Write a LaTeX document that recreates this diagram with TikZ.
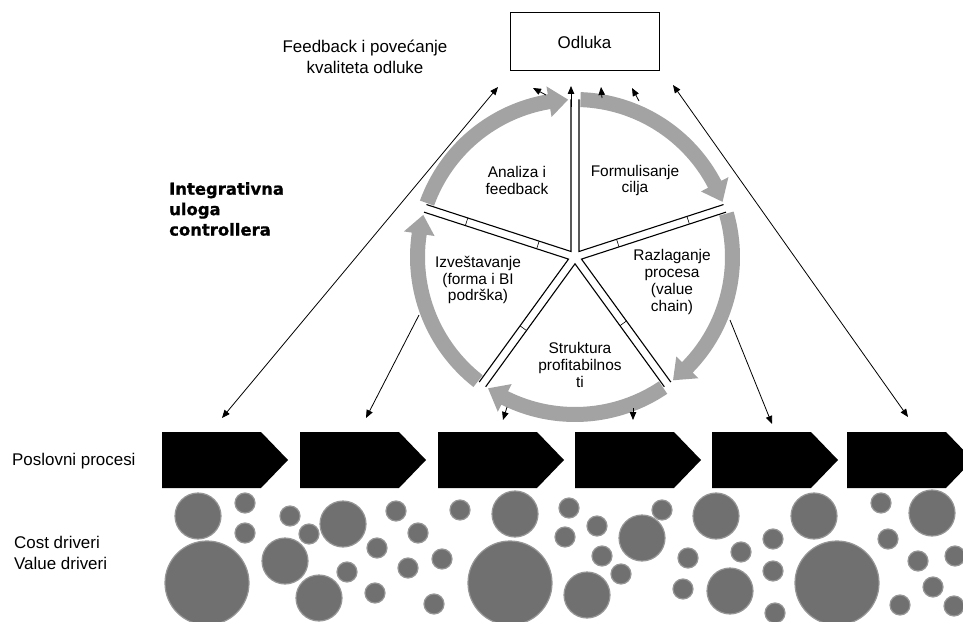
\documentclass[tikz,border=0pt]{standalone}
\usepackage{fontspec}
\setmainfont{Liberation Sans}
\newfontfamily\heavyfont{DejaVu Sans}[BoldFeatures={FakeBold=1}]
\usetikzlibrary{arrows.meta}
\definecolor{ringgray}{RGB}{163,163,163}
\definecolor{drvfill}{RGB}{112,112,112}
\definecolor{drvedge}{RGB}{150,150,150}
\begin{document}
\begin{tikzpicture}[x=1bp,y=-1bp,
  conn/.style={line width=0.8bp,-{Triangle[length=8bp,width=6.5bp]}},
  dconn/.style={line width=0.8bp,{Triangle[length=8bp,width=6.5bp]}-{Triangle[length=8bp,width=6.5bp]}},
  drv/.style={fill=drvfill,draw=drvedge,line width=1.2bp},
  proc/.style={fill=black},
  ringarrow/.style={fill=ringgray},
  side/.style={line width=1.1bp},
  tick/.style={line width=0.6bp},
  lbl/.style={font=\fontsize{15.5}{17}\selectfont,align=center,inner sep=0pt},
  txt/.style={font=\fontsize{17}{21}\selectfont,inner sep=0pt}]
\useasboundingbox (0,0) rectangle (963,622);

% decision box and texts
\node[draw,line width=1bp,minimum width=149bp,minimum height=58bp,inner sep=0pt,
      font=\fontsize{17}{20}\selectfont] (odl) at (584.5,42) {Odluka};
\node[txt,align=center] (fb) at (365,57) {Feedback i povećanje\\kvaliteta odluke};
\node[anchor=west,align=left,inner sep=0pt,
      font=\heavyfont\bfseries\fontsize{16.5}{20.5}\selectfont] (integ) at (169,209)
      {Integrativna\\uloga\\controllera};
\node[txt,anchor=west] (pp) at (12,461) {Poslovni procesi};
\node[txt,anchor=west,align=left] (cv) at (14,553) {Cost driveri\\Value driveri};

% cycle ring
\begin{scope}[shift={(575,257)},yscale=-1]
  \foreach \s/\e in {160/92.5,88/20.5,16/-51.5,-56/-123.5,-128/-195.5}{
    \pgfmathsetmacro\h{\e+7}
    \fill[ringarrow] (\s:165) arc[start angle=\s,end angle=\h,radius=165]
      -- (\h:173) -- (\e:157.5) -- (\h:142) -- (\h:150)
      arc[start angle=\h,end angle=\s,radius=150] -- cycle;
  }
  \foreach \p in {54,-18,-90,-162,126}{
    \draw[side] (\p:6.8) ++({\p+36}:152) -- (\p:6.8) -- ++({\p-36}:152);
  }
  \foreach \t/\r in {162/114,162/39,18/119,18/45,-126/88,-54/82}{
    \draw[tick] (\t:\r) ++({\t+90}:4) -- ++({\t-90}:8);
  }
\end{scope}

% sector labels
\node[lbl] (s1) at (517,180.5) {Analiza i\\feedback};
\node[lbl] (s2) at (635,180.5) {Formulisanje\\cilja};
\node[lbl] (s3) at (672,282) {Razlaganje\\procesa\\(value\\chain)};
\node[lbl] (s4) at (580,365) {Struktura\\profitabilnos\\ti};
\node[lbl] (s5) at (478,280) {Izveštavanje\\(forma i BI\\podrška)};

% business processes
\foreach \bx/\nm in {162/p1,300/p2,438/p3,575/p4,712/p5,847/p6}{
  \fill[proc] (\bx,432) -- ++(99,0) -- ++(27,28) -- ++(-27,28) -- ++(-99,0) -- cycle;
  \coordinate (\nm) at (\bx+50,432);
}

% connector end points
\coordinate (u1s) at (546,95);  \coordinate (u1e) at (533,88);
\coordinate (u2s) at (571,107); \coordinate (u2e) at (571,86);
\coordinate (u3s) at (602,98);  \coordinate (u3e) at (601,87);
\coordinate (u4s) at (639,101); \coordinate (u4e) at (632,88);
\coordinate (d1s) at (507,407); \coordinate (d1e) at (503,420);
\coordinate (d2s) at (633,408); \coordinate (d2e) at (633,420);
\coordinate (d3s) at (419,315); \coordinate (d3e) at (366,418);
\coordinate (d4s) at (730,320); \coordinate (d4e) at (772,424);
\coordinate (l1a) at (222,418); \coordinate (l1b) at (498,87);
\coordinate (l2a) at (908,417); \coordinate (l2b) at (673,85);

\foreach \a in {u1,u2,u3,u4,d1,d2,d3,d4}{
  \draw[conn] (\a s) -- (\a e);
}
\draw[dconn] (l1a) -- (l1b);
\draw[dconn] (l2a) -- (l2b);

% cost / value drivers
\foreach \x/\y/\r in {198/516/23,245/503/10,245/533/10,207/583/42,290/516/10,309/534/10,
  285/561/23,343/524/23,319/598/23,347/572/10,377/548/10,396/511/10,418/533/10,408/568/10,
  442/559/10,375/593/10,434/604/10,460/510/10,
  515/514/23,510/583/42,569/508/10,565/537/10,597/526/10,602/556/10,621/574/10,662/510/10,
  642/538/23,587/595/23,716/516/23,688/558/10,683/589/10,730/591/23,741/552/10,773/539/10,
  773/571/10,775/613/10,814/516/23,837/583/42,881/503/10,888/539/10,932/513/23,918/561/10,
  933/587/10,900/605/10,955/556/10,954/606/10}{
  \path[drv] (\x,\y) circle[radius=\r];
}
\end{tikzpicture}
\end{document}
